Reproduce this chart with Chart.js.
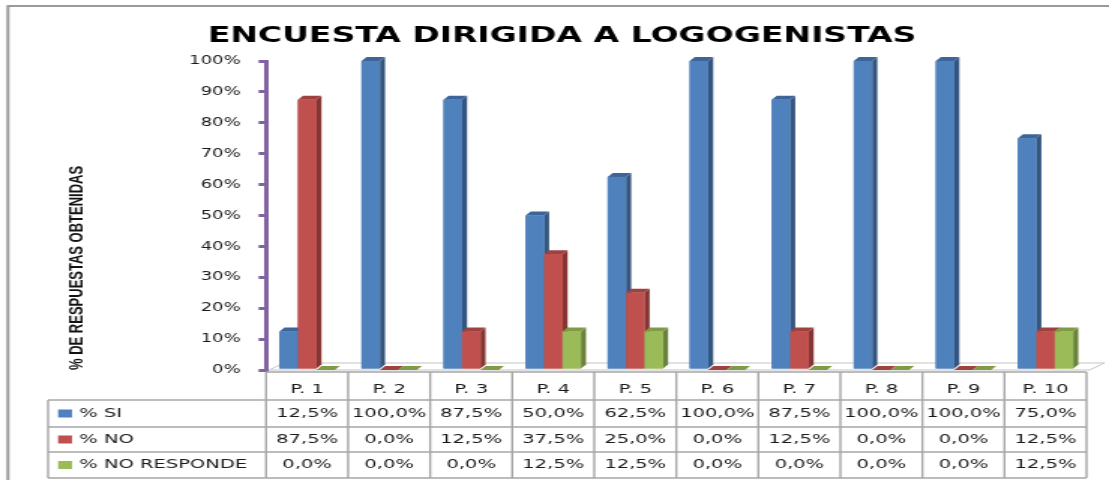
<!DOCTYPE html>
<html>
<head>
<meta charset="utf-8">
<script src="https://cdn.jsdelivr.net/npm/chart.js@4.4.0/dist/chart.umd.min.js"></script>
<style>
  html, body { margin: 0; padding: 0; background: #fff; overflow: hidden; }
  /* the original picture is stretched sideways, so the chart is drawn narrow and widened */
  #wrap { position: absolute; left: 0; top: 0; width: 739px; height: 480px;
          transform: scaleX(1.5007); transform-origin: 0 0; }
</style>
</head>
<body>
<div id="wrap"><canvas id="chart"></canvas></div>
<script>
const preguntas = ['P. 1', 'P. 2', 'P. 3', 'P. 4', 'P. 5', 'P. 6', 'P. 7', 'P. 8', 'P. 9', 'P. 10'];
const nombresSeries = ['% SI', '% NO', '% NO RESPONDE'];
const porcentajeSi = [12.5, 100, 87.5, 50, 62.5, 100, 87.5, 100, 100, 75];
const porcentajeNo = [87.5, 0, 12.5, 37.5, 25, 0, 12.5, 0, 0, 12.5];
const porcentajeNoResponde = [0, 0, 0, 12.5, 12.5, 0, 0, 0, 0, 12.5];

const colorFrente = ['#4F81BD', '#C0504D', '#9BBB59'];
const colorLado = ['#34557E', '#853533', '#6B823C'];
const colorTapa = ['#3D659A', '#9E4240', '#809B48'];

const DX = 3.4, DY = 4;        // bar depth
const FONT_TXT = '13px "DejaVu Sans"';
const PAD_IZQ = 25;

function formatoPct(v) {
  return v.toFixed(1).replace('.', ',') + '%';
}

// floor under the bars + 3D sides/tops of each bar
const barras3d = {
  id: 'barras3d',
  beforeDatasetsDraw(chart) {
    const {ctx, chartArea: a} = chart;
    ctx.save();
    ctx.strokeStyle = '#c4c4c4';
    ctx.lineWidth = 1;
    ctx.beginPath();
    ctx.moveTo(a.left + 2, a.bottom);
    ctx.lineTo(a.right + 2, a.bottom);
    ctx.lineTo(a.right + 12, a.bottom - 7);
    ctx.lineTo(a.left + 12, a.bottom - 7);
    ctx.closePath();
    ctx.stroke();
    ctx.restore();
  },
  afterDatasetsDraw(chart) {
    const ctx = chart.ctx;
    ctx.save();
    for (let i = 0; i < chart.data.labels.length; i++) {
      chart.data.datasets.forEach((ds, d) => {
        const bar = chart.getDatasetMeta(d).data[i];
        const {x, y, base, width} = bar.getProps(['x', 'y', 'base', 'width'], true);
        const left = x - width / 2, right = x + width / 2;

        ctx.fillStyle = colorLado[d];
        ctx.beginPath();
        ctx.moveTo(right, y);
        ctx.lineTo(right + DX, y - DY);
        ctx.lineTo(right + DX, base - DY);
        ctx.lineTo(right, base);
        ctx.closePath();
        ctx.fill();

        ctx.fillStyle = colorTapa[d];
        ctx.beginPath();
        ctx.moveTo(left, y);
        ctx.lineTo(left + DX, y - DY);
        ctx.lineTo(right + DX, y - DY);
        ctx.lineTo(right, y);
        ctx.closePath();
        ctx.fill();

        ctx.fillStyle = colorFrente[d];
        ctx.fillRect(left, y, width, base - y);
      });
    }
    ctx.restore();
  }
};

// data table under the chart and the outer frame
const tablaDatos = {
  id: 'tablaDatos',
  afterDraw(chart) {
    const ctx = chart.ctx;
    const xs = chart.scales.x;
    const n = chart.data.labels.length;
    const col = (xs.right - xs.left) / n;
    const filas = [372, 400, 427, 452, 478];
    const izq = 32;

    ctx.save();
    ctx.strokeStyle = '#a6a6a6';
    ctx.lineWidth = 1.4;
    ctx.beginPath();
    // horizontal lines
    ctx.moveTo(xs.left, filas[0]); ctx.lineTo(xs.right, filas[0]);
    for (let r = 1; r < filas.length; r++) {
      ctx.moveTo(izq, filas[r]); ctx.lineTo(xs.right, filas[r]);
    }
    // vertical lines
    ctx.moveTo(izq, filas[1]); ctx.lineTo(izq, filas[4]);
    for (let i = 0; i <= n; i++) {
      const xx = xs.left + i * col;
      ctx.moveTo(xx, filas[0]); ctx.lineTo(xx, filas[4]);
    }
    ctx.stroke();

    ctx.font = FONT_TXT;
    ctx.textBaseline = 'middle';
    chart.data.datasets.forEach((ds, d) => {
      const cy = (filas[d + 1] + filas[d + 2]) / 2;
      ctx.fillStyle = colorFrente[d];
      ctx.fillRect(38.7, cy - 4, 9.3, 8);
      ctx.fillStyle = '#1a1a1a';
      ctx.textAlign = 'left';
      ctx.fillText(ds.label, 52.7, cy);
      ctx.textAlign = 'center';
      ds.data.forEach((v, i) => {
        ctx.fillText(formatoPct(v), xs.left + (i + 0.5) * col, cy);
      });
    });

    // outer frame
    ctx.strokeStyle = '#9a9a9a';
    ctx.lineWidth = 2;
    ctx.beginPath();
    ctx.moveTo(5.3, 480); ctx.lineTo(5.3, 6); ctx.lineTo(chart.width, 6);
    ctx.stroke();
    ctx.restore();
  }
};

const datasets = [porcentajeSi, porcentajeNo, porcentajeNoResponde].map((vals, d) => ({
  label: nombresSeries[d],
  data: vals,
  backgroundColor: colorFrente[d],
  borderWidth: 0,
  clip: false
}));

new Chart(document.getElementById('chart'), {
  type: 'bar',
  data: { labels: preguntas, datasets: datasets },
  options: {
    responsive: true,
    maintainAspectRatio: false,
    animation: false,
    events: [],
    layout: { padding: { left: PAD_IZQ, right: 15, top: 0, bottom: 0 } },
    datasets: { bar: { categoryPercentage: 0.675, barPercentage: 1 } },
    plugins: {
      legend: { display: false },
      tooltip: { enabled: false },
      title: {
        display: true,
        text: 'ENCUESTA DIRIGIDA A LOGOGENISTAS',
        color: '#000',
        font: { family: '"DejaVu Sans"', size: 22, weight: 'bold' },
        padding: { top: 23, bottom: 11.6 }
      }
    },
    scales: {
      x: {
        grid: { display: false, drawTicks: false },
        border: { display: false },
        ticks: { color: '#1a1a1a', font: { family: '"DejaVu Sans"', size: 13 }, padding: 12, maxRotation: 0 },
        afterFit(scale) { scale.height = 110; }
      },
      y: {
        min: 0,
        max: 100,
        ticks: {
          stepSize: 10,
          padding: 12,
          color: '#1a1a1a',
          font: { family: '"DejaVu Sans"', size: 12 },
          callback: v => v + '%'
        },
        grid: { drawOnChartArea: false, color: '#8064A2', lineWidth: 3, tickLength: 5 },
        border: { color: '#8064A2', width: 3 },
        title: {
          display: true,
          text: '% DE RESPUESTAS OBTENIDAS',
          align: 'start',
          color: '#111',
          font: { family: '"Liberation Sans"', size: 13, weight: 'bold' },
          padding: { top: 19, bottom: 0 }
        },
        afterFit(scale) { scale.width = 177.3 - PAD_IZQ; }
      }
    }
  },
  plugins: [barras3d, tablaDatos]
});
</script>
</body>
</html>
